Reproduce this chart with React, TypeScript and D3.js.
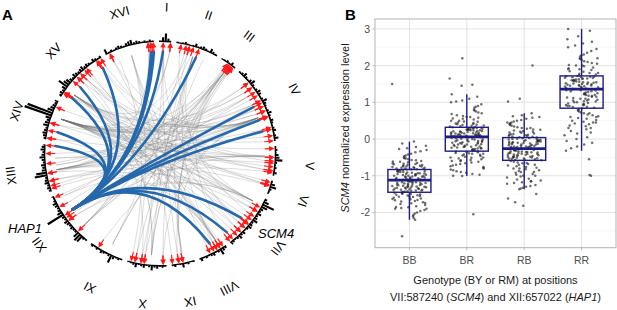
import React from "react";
import * as d3 from "d3";

// ---------- Panel A data ----------
const chromNames = ["I","II","III","IV","V","VI","VII","VIII","IX","X","XI","XII","XIII","XIV","XV","XVI"];
const chromSizesKb = [230,813,317,1532,577,270,1091,563,440,746,667,1078,924,784,1091,948];
const histBinKb = 50;
// hotspot histogram (per chromosome, 50 kb bins)
const hotspotHist: number[][] = [
  [0,4,8,3,1],
  [1,0,1,2,1,0,1,3,1,2,3,2,1,4,2,1,0],
  [0,1,2,1,3,1,0],
  [1,2,4,2,1,3,5,2,1,2,4,3,1,2,5,3,2,1,2,4,2,1,3,2,1,2,3,1,2,4,1],
  [1,2,1,3,4,7,2,1,2,1,3,1],
  [1,4,6,2,1,0],
  [2,5,12,6,3,2,4,2,3,5,2,3,4,2,1,3,2,4,2,1,2,3],
  [2,3,6,2,1,3,2,1,2,1,3,1],
  [1,0,2,1,4,1,0,2,1],
  [1,2,1,3,2,5,2,1,3,2,1,4,2,1,0],
  [1,2,1,3,8,2,1,2,3,1,2,1,2,1],
  [1,2,7,8,6,2,2,3,2,3,4,2,3,18,5,3,2,3,4,2,1,2],
  [2,3,2,4,3,2,12,10,4,3,4,2,3,5,3,2,4,3,2],
  [2,3,4,3,2,5,4,3,5,28,26,6,4,3,2,3],
  [2,3,2,4,10,6,5,3,2,4,3,2,3,4,2,3,2,1,3,2,1,2],
  [5,1,2,1,2,3,2,1,3,4,5,2,3,2,1,2,1,2,1],
];
const hap1Locus: [string, number] = ["XII", 657];
const hap1Targets: [string, number][] = [
  ["XVI",880],["XVI",910],["XVI",940],["I",80],["II",448],
  ["XV",1004],["XV",379],["XV",94],["XIV",181],["XIII",907],
  ["IV",752],["IV",1055],["IV",1301],
  ["VII",587],["VII",1015],["VIII",254],
];
// other links: [source chr, kb, target chr, kb]
const otherLinks: [string, number, string, number][] = [
  ["XII",250,"XVI",838],["XIII",400,"I",220],["VII",150,"II",96],["XI",300,"II",194],
  ["X",300,"II",259],["XIII",500,"II",335],
  ["XIII",400,"III",150],["XII",250,"III",180],["XI",300,"III",205],["XIV",470,"III",230],
  ["X",300,"III",255],["IX",200,"III",280],
  ["XIV",470,"IV",278],["XV",170,"IV",395],["XIV",470,"IV",502],["XIII",400,"IV",585],
  ["XII",250,"IV",699],["XIV",470,"IV",820],["XV",170,"IV",915],["XIV",470,"IV",1032],
  ["XIII",650,"IV",1264],["XIV",470,"IV",1423],["XV",170,"IV",1525],
  ["XIV",470,"V",46],["XIV",470,"V",221],["XV",600,"V",296],["XIII",400,"V",334],
  ["XIV",470,"V",410],["XV",170,"V",486],["XII",1000,"V",524],
  ["XIV",470,"VI",38],["XV",170,"VI",95],["XIII",400,"VI",114],
  ["XIV",470,"VII",200],["XV",170,"VII",295],["II",380,"VII",412],["XIV",470,"VII",496],
  ["XV",600,"VII",606],["I",90,"VII",693],["XVI",470,"VII",807],["XIV",470,"VII",905],
  ["III",200,"VII",1085],
  ["XV",170,"VIII",57],["XIV",470,"VIII",121],["II",380,"VIII",186],["XVI",470,"VIII",337],
  ["II",380,"IX",222],["I",90,"IX",301],["XVI",470,"IX",423],
  ["IV",1000,"X",62],["III",200,"X",426],["XV",170,"X",487],["II",600,"X",604],["XVI",200,"X",680],
  ["IV",1000,"XI",510],
  ["II",380,"XII",245],["V",200,"XII",522],["IV",1000,"XII",590],["VII",150,"XII",647],
  ["III",200,"XII",837],["IV",500,"XII",1045],
  ["V",200,"XIII",51],["IV",1000,"XIII",104],["VII",150,"XIII",202],["VIII",110,"XIII",358],
  ["III",200,"XIII",547],["IV",1000,"XIII",748],
  ["V",200,"XIV",29],["VII",150,"XIV",332],["IV",1000,"XIV",662],
  ["VIII",110,"XV",75],["VII",150,"XV",113],["IV",1000,"XV",492],["X",300,"XV",587],
  ["VII",150,"XV",693],["VIII",110,"XV",739],["IV",1000,"XV",978],["V",200,"XV",1072],
  ["IV",1000,"XVI",80],
  ["XIII",400,"IV",278],["XIII",400,"IV",820],["XII",250,"IV",1032],["XIV",470,"IV",395],
  ["XIV",470,"IV",699],["XIV",470,"IV",915],["XIII",650,"V",221],["XIV",470,"V",486],
  ["XIV",470,"VI",95],["XIII",400,"VII",295],["XIV",470,"VII",606],["XV",170,"VII",693],
  ["XIV",470,"VII",807],["XV",170,"VIII",121],["XIV",470,"VIII",186],
  ["XI",300,"III",150],["XII",250,"III",205],["XIII",400,"III",255],["X",300,"III",180],
  ["IX",200,"III",230],["XII",1000,"III",280],
  ["II",380,"X",62],["III",200,"IX",222],["I",90,"X",426],["II",380,"X",487],
  ["XVI",470,"X",604],["IV",1000,"IX",301],
  ["IV",1000,"XIII",358],["V",200,"XIII",202],["VII",150,"XII",522],["IV",500,"XIV",332],
  ["VIII",110,"XIV",29],["IV",1000,"XV",587],["VII",150,"XV",978],["VIII",110,"XVI",80],
  ["X",300,"XV",492],["IV",700,"XV",113],["XV",170,"II",259],["XIV",470,"I",220],
  ["XIII",500,"XVI",838],
];

// ---------- Panel B data ----------
const genotypes = ["BB","BR","RB","RR"];
const boxQ1 = [-1.45,-0.33,-0.58,0.84];
const boxMedian = [-1.12,0.06,-0.26,1.36];
const boxQ3 = [-0.83,0.32,0.04,1.72];
const whiskerLow = [-2.2,-1.01,-1.37,-0.32];
const whiskerHigh = [-0.07,1.22,0.7,3.0];
const yTicks = [-2,-1,0,1,2,3];

const bbValues = [1.5,-0.07,-0.12,-0.18,-0.22,-0.25,-0.27,-0.3,-0.33,-0.36,-0.4,-0.42,-0.45,
  -0.47,-0.5,-0.52,-0.53,-0.55,-0.57,-0.58,-0.6,-0.61,-0.62,-0.63,-0.65,-0.66,-0.67,-0.68,-0.69,-0.7,-0.71,-0.72,-0.73,-0.74,-0.75,-0.75,-0.76,-0.77,-0.78,-0.78,-0.79,-0.8,-0.8,-0.81,-0.82,-0.82,-0.83,
  -0.84,-0.85,-0.86,-0.87,-0.88,-0.89,-0.9,-0.9,-0.91,-0.92,-0.93,-0.94,-0.95,-0.95,-0.96,-0.97,-0.98,-0.99,-1.0,-1.0,-1.01,-1.02,-1.03,-1.04,-1.05,-1.05,-1.06,-1.07,-1.08,-1.09,-1.1,-1.1,-1.11,-1.12,-0.88,-0.93,-0.97,-1.02,-1.07,
  -1.13,-1.14,-1.15,-1.16,-1.17,-1.18,-1.19,-1.2,-1.2,-1.21,-1.22,-1.23,-1.24,-1.25,-1.25,-1.26,-1.27,-1.28,-1.29,-1.3,-1.3,-1.31,-1.32,-1.33,-1.34,-1.35,-1.35,-1.36,-1.37,-1.38,-1.39,-1.4,-1.4,-1.41,-1.42,-1.43,-1.44,-1.45,-1.18,-1.27,-1.33,-1.22,-1.16,-1.29,-1.38,
  -1.46,-1.48,-1.5,-1.51,-1.52,-1.54,-1.55,-1.57,-1.58,-1.6,-1.61,-1.63,-1.65,-1.67,-1.69,-1.7,-1.72,-1.75,-1.77,-1.8,-1.83,-1.86,-1.88,-1.9,-1.93,-1.96,-2.0,-2.03,-2.07,-2.1,-2.15,-2.2,-1.53,-1.62,-1.74,-1.85,-1.49,-1.56,-1.66,-1.9,-2.65];
const brValues = [2.2,1.65,1.48,1.45,
  1.22,1.15,1.1,1.05,1.02,1.0,0.95,0.9,0.88,0.85,0.8,0.78,0.75,0.72,0.7,0.68,0.65,0.63,0.6,0.58,0.56,0.55,0.53,0.5,0.48,0.47,0.45,0.44,0.42,0.41,0.4,0.39,0.38,0.37,0.36,0.35,0.34,0.33,0.6,0.5,
  0.32,0.31,0.3,0.29,0.28,0.27,0.27,0.26,0.25,0.24,0.23,0.22,0.22,0.21,0.2,0.19,0.18,0.18,0.17,0.16,0.15,0.15,0.14,0.13,0.12,0.12,0.11,0.1,0.1,0.09,0.08,0.08,0.07,0.07,0.06,0.3,0.25,0.2,0.15,0.1,0.28,0.24,0.17,0.11,0.09,
  0.05,0.04,0.03,0.02,0.01,0,-0.01,-0.02,-0.03,-0.04,-0.05,-0.06,-0.07,-0.08,-0.09,-0.1,-0.11,-0.12,-0.13,-0.14,-0.15,-0.16,-0.17,-0.18,-0.19,-0.2,-0.21,-0.22,-0.23,-0.24,-0.25,-0.26,-0.27,-0.28,-0.29,-0.3,-0.31,-0.32,-0.33,-0.05,-0.1,-0.15,-0.2,0.0,-0.25,
  -0.34,-0.35,-0.36,-0.38,-0.39,-0.4,-0.42,-0.43,-0.45,-0.46,-0.48,-0.5,-0.51,-0.53,-0.55,-0.57,-0.58,-0.6,-0.62,-0.64,-0.66,-0.68,-0.7,-0.72,-0.74,-0.76,-0.78,-0.8,-0.83,-0.85,-0.88,-0.9,-0.92,-0.95,-0.97,-1.0,-1.01,-0.4,-0.5,-0.6,-2.05];
const rbValues = [2.0,1.1,1.02,0.7,0.65,0.62,0.6,0.58,0.55,0.52,0.5,0.48,0.45,0.43,0.4,0.38,0.36,0.34,0.32,0.3,0.28,0.26,0.25,0.23,0.21,0.2,0.18,0.17,0.15,0.14,0.12,0.11,0.1,0.09,0.08,0.07,0.06,0.05,0.45,0.3,0.2,0.13,
  0.04,0.03,0.02,0.01,0,-0.01,-0.02,-0.03,-0.04,-0.05,-0.06,-0.07,-0.08,-0.09,-0.1,-0.11,-0.12,-0.13,-0.14,-0.15,-0.16,-0.17,-0.18,-0.19,-0.2,-0.21,-0.22,-0.23,-0.24,-0.25,-0.26,0.0,-0.05,-0.1,-0.15,-0.2,-0.22,-0.12,-0.08,-0.18,-0.03,-0.24,
  -0.27,-0.28,-0.29,-0.3,-0.31,-0.32,-0.33,-0.34,-0.35,-0.36,-0.37,-0.38,-0.39,-0.4,-0.41,-0.42,-0.43,-0.44,-0.45,-0.46,-0.47,-0.48,-0.49,-0.5,-0.51,-0.52,-0.53,-0.54,-0.55,-0.56,-0.57,-0.58,-0.3,-0.35,-0.4,-0.45,-0.5,-0.33,-0.38,-0.43,-0.48,-0.53,
  -0.6,-0.62,-0.64,-0.66,-0.68,-0.7,-0.72,-0.74,-0.76,-0.78,-0.8,-0.82,-0.85,-0.87,-0.9,-0.92,-0.95,-0.97,-1.0,-1.02,-1.05,-1.08,-1.1,-1.13,-1.15,-1.18,-1.2,-1.22,-1.25,-1.28,-1.3,-1.33,-1.35,-1.37,-0.7,-0.8,-0.9,-1.0,-0.65,-1.15,
  -1.5,-1.62,-1.72,-1.82];
const rrValues = [3.0,2.95,2.8,2.72,2.65,2.6,2.55,2.5,2.45,2.4,2.35,2.3,2.28,2.25,2.2,2.18,2.15,2.12,2.1,2.07,2.05,2.02,2.0,1.98,1.95,1.93,1.9,1.88,1.85,1.83,1.8,1.78,1.76,1.74,2.2,2.0,1.9,1.8,
  1.72,1.71,1.7,1.69,1.68,1.67,1.66,1.65,1.64,1.63,1.62,1.61,1.6,1.59,1.58,1.57,1.56,1.55,1.54,1.53,1.52,1.51,1.5,1.49,1.48,1.47,1.46,1.45,1.44,1.43,1.42,1.41,1.4,1.39,1.38,1.37,1.7,1.65,1.6,1.55,1.5,1.45,
  1.35,1.33,1.32,1.3,1.28,1.27,1.25,1.23,1.22,1.2,1.18,1.17,1.15,1.13,1.12,1.1,1.08,1.07,1.05,1.03,1.02,1.0,0.98,0.97,0.95,0.93,0.92,0.9,0.88,0.87,0.85,0.84,1.3,1.2,1.1,1.0,0.9,1.25,1.15,1.05,0.95,1.33,
  0.82,0.8,0.77,0.75,0.72,0.7,0.67,0.65,0.62,0.6,0.57,0.55,0.52,0.5,0.47,0.45,0.42,0.4,0.37,0.35,0.3,0.27,0.22,0.18,0.15,0.1,0.05,0.0,-0.05,-0.1,-0.15,-0.2,-0.25,-0.32,0.6,0.45,0.3,0.7,
  -0.55,-0.98,-1.0];
const groupValues = [bbValues, brValues, rbValues, rrValues];

// ---------- geometry ----------
const W = 617, H = 310;
const CX = 160, CY = 153.5, R = 114;
const GAP = 2.6, START = -0.5;
const totalKb = d3.sum(chromSizesKb);
const chromStarts = chromSizesKb.map((_, i) => d3.sum(chromSizesKb.slice(0, i)));
const degPerKb = (360 - GAP * chromNames.length) / totalKb;
const ang = (c: string, kb: number) => {
  const i = chromNames.indexOf(c);
  return START + i * GAP + (chromStarts[i] + kb) * degPerKb;
};
const rad = (a: number) => (a * Math.PI) / 180;
const pt = (a: number, r: number) => [r * Math.sin(rad(a)), -r * Math.cos(rad(a))];
const R_LINK = 103.5;
// quadratic chord whose control point leans toward the source end
const chordPath = (a0: number, a1: number, lean: number) => {
  const p = d3.path();
  const [x0, y0] = pt(a0, R_LINK);
  const [x1, y1] = pt(a1, R_LINK);
  const [cx, cy] = pt(a0, R * lean);
  p.moveTo(x0, y0);
  p.quadraticCurveTo(cx, cy, x1, y1);
  return p.toString();
};
const histScale = d3.scaleLinear().domain([0, 28]).range([0, 28]);
const arcGen = d3.arc();

function PanelA() {
  const targets: [string, number][] = [
    ...hap1Targets,
    ...otherLinks.map((l) => [l[2], l[3]] as [string, number]),
  ];
  const aHap = ang(hap1Locus[0], hap1Locus[1]);
  const font = "Liberation Sans, Arial, sans-serif";
  return (
    <g>
      <g transform={`translate(${CX},${CY}) scale(1.013,0.985)`}>
        {otherLinks.map((l, i) => (
          <path key={"g" + i} d={chordPath(ang(l[0], l[1]), ang(l[2], l[3]), 0.1)}
            fill="none" stroke="#6e6e6e" strokeOpacity={0.4} strokeWidth={0.6} />
        ))}
        {hap1Targets.map((t, i) => (
          <path key={"b" + i} d={chordPath(aHap, ang(t[0], t[1]), 0.15)}
            fill="none" stroke="#2468ad" strokeWidth={2.6} strokeLinecap="round" />
        ))}
        {chromNames.map((c, i) => {
          const a0 = ang(c, 0), a1 = ang(c, chromSizesKb[i]);
          return (
            <path key={"c" + c} fill="#000"
              d={arcGen({ innerRadius: R - 0.7, outerRadius: R + 0.7, startAngle: rad(a0), endAngle: rad(a1) } as any) as string} />
          );
        })}
        {chromNames.map((c, i) =>
          hotspotHist[i].map((h, j) => {
            if (h <= 0) return null;
            const k0 = j * histBinKb;
            const k1 = Math.min((j + 1) * histBinKb, chromSizesKb[i]);
            const mid = (k0 + k1) / 2;
            const half = (k1 - k0) * 0.38;
            return (
              <path key={`h${c}-${j}`} fill="#000"
                d={arcGen({ innerRadius: R, outerRadius: R + histScale(h), startAngle: rad(ang(c, mid - half)), endAngle: rad(ang(c, mid + half)) } as any) as string} />
            );
          })
        )}
        {targets.map((t, i) => {
          const a = ang(t[0], t[1]);
          return (
            <g key={"a" + i} transform={`rotate(${a})`}>
              <line x1={0} y1={-103.5} x2={0} y2={-108.5} stroke="#ff1a1a" strokeWidth={1.2} />
              <path d="M0,-113.3L-2.6,-107.8L2.6,-107.8Z" fill="#ff1a1a" />
            </g>
          );
        })}
      </g>
      {chromNames.map((c, i) => {
        const a = ang(c, chromSizesKb[i] / 2);
        const x = CX + 150 * Math.sin(rad(a));
        const y = 156 - 148.5 * Math.cos(rad(a));
        return (
          <text key={"l" + c} x={x} y={y} transform={`rotate(${a},${x},${y})`}
            textAnchor="middle" dominantBaseline="central" fontSize={12.5}
            fontFamily={font} fill="#000">{c}</text>
        );
      })}
      <text x={8} y={233} fontSize={13} fontStyle="italic" fontFamily={font}>HAP1</text>
      <text x={258} y={238} fontSize={13} fontStyle="italic" fontFamily={font}>SCM4</text>
      <text x={2} y={20} fontSize={15} fontWeight="bold" fontFamily={font}>A</text>
    </g>
  );
}

function PanelB() {
  const left = 375, right = 616, top = 19, bottom = 247.7;
  const x = d3.scalePoint().domain(genotypes).range([left, right]).padding(0.6);
  const step = x.step();
  const y = d3.scaleLinear().domain([-2.96, 3.27]).range([bottom, top]);
  const boxW = step * 0.75;
  const jitterW = step * 0.3;
  const minor = d3.range(-2.5, 3.01, 1);
  const font = "Liberation Sans, Arial, sans-serif";
  const boxColor = "#1c1c85";
  return (
    <g>
      <rect x={left} y={top} width={right - left} height={bottom - top} fill="#fff" />
      {minor.map((v) => (
        <line key={"mn" + v} x1={left} x2={right} y1={y(v)} y2={y(v)} stroke="#eeeeee" strokeWidth={0.5} />
      ))}
      {yTicks.map((v) => (
        <line key={"mj" + v} x1={left} x2={right} y1={y(v)} y2={y(v)} stroke="#e0e0e0" strokeWidth={0.9} />
      ))}
      {genotypes.map((g) => (
        <line key={"vx" + g} x1={x(g)} x2={x(g)} y1={top} y2={bottom} stroke="#e0e0e0" strokeWidth={0.9} />
      ))}
      {groupValues.map((vals, gi) =>
        vals.map((v, i) => {
          const f = (i * 0.6180339887 + i * i * 0.0137 + gi * 0.37) % 1;
          return (
            <circle key={`p${gi}-${i}`} cx={(x(genotypes[gi]) as number) + (f - 0.5) * 2 * jitterW}
              cy={y(v)} r={1.25} fill="#222" fillOpacity={0.65} />
          );
        })
      )}
      {genotypes.map((g, i) => {
        const cx = x(g) as number;
        return (
          <g key={"box" + g} stroke={boxColor} fill="none">
            <line x1={cx} x2={cx} y1={y(whiskerHigh[i])} y2={y(boxQ3[i])} strokeWidth={1.4} />
            <line x1={cx} x2={cx} y1={y(boxQ1[i])} y2={y(whiskerLow[i])} strokeWidth={1.4} />
            <rect x={cx - boxW / 2} y={y(boxQ3[i])} width={boxW} height={y(boxQ1[i]) - y(boxQ3[i])} strokeWidth={1.4} />
            <line x1={cx - boxW / 2} x2={cx + boxW / 2} y1={y(boxMedian[i])} y2={y(boxMedian[i])} strokeWidth={2.6} />
          </g>
        );
      })}
      <rect x={left} y={top} width={right - left} height={bottom - top} fill="none" stroke="#b3b3b3" strokeWidth={1} />
      {yTicks.map((v) => (
        <g key={"yt" + v}>
          <line x1={left - 2.5} x2={left} y1={y(v)} y2={y(v)} stroke="#b3b3b3" strokeWidth={0.9} />
          <text x={left - 5} y={y(v)} textAnchor="end" dominantBaseline="central" fontSize={10.5}
            fill="#4d4d4d" fontFamily={font}>{v}</text>
        </g>
      ))}
      {genotypes.map((g) => (
        <g key={"xt" + g}>
          <line x1={x(g)} x2={x(g)} y1={bottom} y2={bottom + 2.5} stroke="#b3b3b3" strokeWidth={0.9} />
          <text x={x(g)} y={263.5} textAnchor="middle" fontSize={10.5} fill="#4d4d4d" fontFamily={font}>{g}</text>
        </g>
      ))}
      <text x={(left + right) / 2} y={283.5} textAnchor="middle" fontSize={11} fill="#1a1a1a" fontFamily={font}>
        Genotype (BY or RM) at positions
      </text>
      <text x={(left + right) / 2} y={301} textAnchor="middle" fontSize={11} fill="#1a1a1a" fontFamily={font}>
        VII:587240 (<tspan fontStyle="italic">SCM4</tspan>) and XII:657022 (<tspan fontStyle="italic">HAP1</tspan>)
      </text>
      <text x={349} y={128} transform="rotate(-90,349,128)" textAnchor="middle" fontSize={11} fill="#1a1a1a" fontFamily={font}>
        <tspan fontStyle="italic">SCM4</tspan> normalized expression level
      </text>
      <text x={345} y={20} fontSize={15} fontWeight="bold" fontFamily={font}>B</text>
    </g>
  );
}

export default function App() {
  return (
    <svg width={W} height={H} viewBox={`0 0 ${W} ${H}`}
      style={{ position: "fixed", left: 0, top: 0, background: "#fff" }}>
      <rect width={W} height={H} fill="#fff" />
      <PanelA />
      <PanelB />
    </svg>
  );
}
